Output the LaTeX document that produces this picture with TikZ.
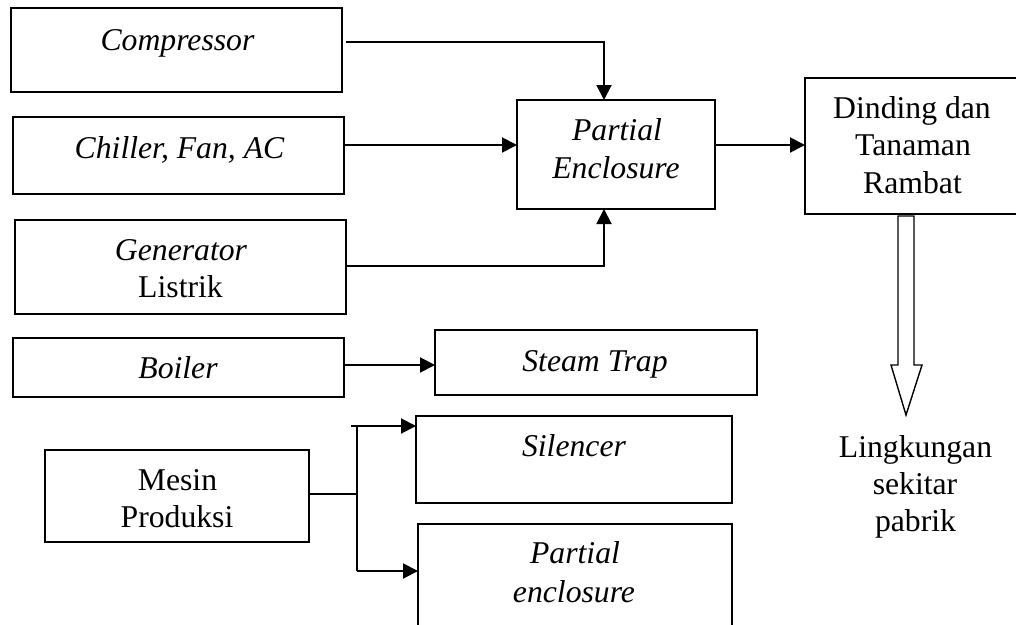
\documentclass[tikz,border=0pt]{standalone}
\usepackage{fontspec}
\setmainfont{Liberation Serif}
\usetikzlibrary{arrows.meta,calc}

\begin{document}
\begin{tikzpicture}[
  x=1pt, y=-1pt,
  box/.style={draw=black, line width=1.5pt, inner sep=0pt, outer sep=0pt},
  txt/.style={anchor=base, inner sep=0pt, font=\fontsize{31.7}{38}\selectfont},
  itxt/.style={txt, font=\fontsize{31.7}{38}\selectfont\itshape},
  line/.style={draw=black, line width=2pt},
  arr/.style={line, -{Triangle[length=15pt,width=15pt]}},
  blockarrow/.style={draw=black, line width=1.4pt, fill=white, line join=miter}
]
\useasboundingbox (0,0) rectangle (1016,624);
\clip (0,0) rectangle (1016,624);

% sources on the left
\node[box, minimum width=331pt, minimum height=84pt] (comp)  at (176.5,50)  {};
\node[box, minimum width=331pt, minimum height=77pt] (chil)  at (178.5,155.5) {};
\node[box, minimum width=331pt, minimum height=94pt] (gen)   at (180.5,267) {};
\node[box, minimum width=331pt, minimum height=59pt] (boil)  at (178.5,367.5) {};
\node[box, minimum width=264pt, minimum height=92pt] (mesin) at (177,496)   {};

% treatment boxes
\node[box, minimum width=198pt, minimum height=109pt] (pe)    at (616,154.5) {};
\node[box, minimum width=215pt, minimum height=136pt] (dind)  at (912.5,146) {};
\node[box, minimum width=322pt, minimum height=65pt]  (steam) at (596,362.5) {};
\node[box, minimum width=316pt, minimum height=87pt]  (sil)   at (574,459.5) {};
\node[box, minimum width=314pt, minimum height=116pt] (pe2)   at (575,582)   {};

% labels
\node[itxt] (compT)  at (177.5,50)  {Compressor};
\node[itxt] (chilT)  at (179.5,158) {Chiller, Fan, AC};
\node[itxt] (genT1)  at (181,260)   {Generator};
\node[txt]  (genT2)  at (180.5,297) {Listrik};
\node[itxt] (peT1)   at (617,140)   {Partial};
\node[itxt] (peT2)   at (616,178)   {Enclosure};
\node[txt]  (dindT1) at (912,118)   {Dinding dan};
\node[txt]  (dindT2) at (913,155)   {Tanaman};
\node[txt]  (dindT3) at (912.5,193) {Rambat};
\node[itxt] (boilT)  at (178,378)   {Boiler};
\node[itxt] (steamT) at (595,371)   {Steam Trap};
\node[itxt] (silT)   at (574,456)   {Silencer};
\node[txt]  (mesT1)  at (177.5,490) {Mesin};
\node[txt]  (mesT2)  at (177,527)   {Produksi};
\node[itxt] (pe2T1)  at (575,563)   {Partial};
\node[itxt] (pe2T2)  at (574,602)   {enclosure};
\node[txt]  (lingT1) at (915.5,457) {Lingkungan};
\node[txt]  (lingT2) at (915,494)   {sekitar};
\node[txt]  (lingT3) at (915.5,531) {pabrik};

% connectors into the partial enclosure
\draw[arr] ($(comp.east)+(4,-8)$) -| ([xshift=-12pt]pe.north);
\coordinate (c1) at ($(chil.east)+(1,-10.5)$);
\draw[arr] (c1) -- (c1 -| pe.west);
\coordinate (g1) at ($(gen.east)+(1,-1)$);
\draw[arr] (g1) -| ([xshift=-12pt]pe.south);

% partial enclosure to the wall
\coordinate (p1) at ($(pe.east)+(0,-9.5)$);
\draw[arr] (p1) -- (p1 -| dind.west);

% boiler to steam trap
\coordinate (b1) at ($(boil.east)+(1,-2.5)$);
\draw[arr] (b1) -- (b1 -| steam.west);

% production machines split
\coordinate (j)  at ($(mesin.east)+(48,-2)$);
\coordinate (sa) at ($(sil.north west)+(0,10)$);
\coordinate (pa) at ($(pe2.north west)+(0,47)$);
\draw[line] ($(mesin.east)+(0,-2)$) -- (j);
\draw[line] (sa -| j) -- (pa -| j);
\draw[arr] ($(sa -| j)+(-6,0)$) -- (sa);
\draw[arr] (pa -| j) -- (pa);

% hollow arrow from the wall to the surroundings
\coordinate (ba) at ($(dind.south)+(-6.5,0)$);
\draw[blockarrow] ($(ba)+(-8,2)$) -- ($(ba)+(-8,151)$) -- ($(ba)+(-15,151)$)
  -- ($(ba)+(0,201)$) -- ($(ba)+(16,151)$) -- ($(ba)+(8,151)$)
  -- ($(ba)+(8,2)$) -- cycle;
\end{tikzpicture}
\end{document}
